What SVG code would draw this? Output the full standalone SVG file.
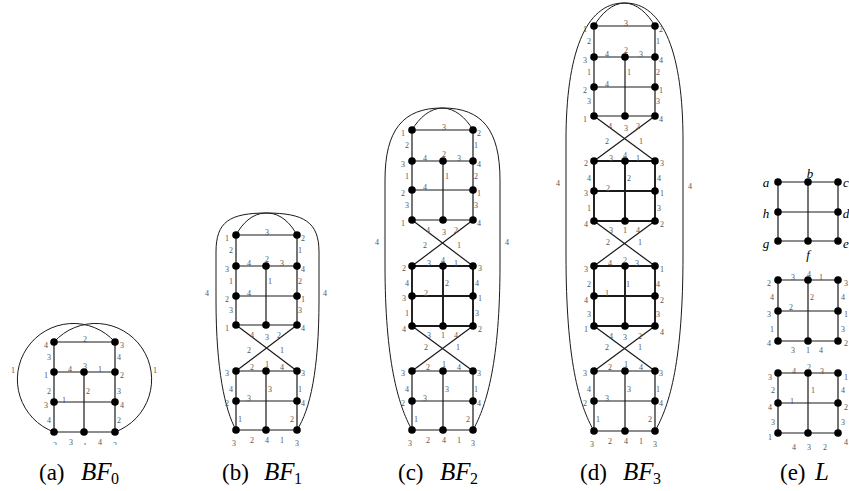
<svg xmlns="http://www.w3.org/2000/svg" width="849" height="491" viewBox="0 0 849 491">
<style>
.e{stroke:#1a1a1a;stroke-width:1.2;fill:none}
.t{stroke-width:1.9}
.o{stroke:#1a1a1a;stroke-width:1;fill:none}
circle{fill:#000}
.l text{font-family:"Liberation Serif",serif;font-size:8px;fill:#555;text-anchor:middle;dominant-baseline:central}
.v text{font-family:"Liberation Serif",serif;font-size:13px;font-style:italic;fill:#000;text-anchor:middle;dominant-baseline:central}
.cap text{font-family:"Liberation Serif",serif;font-size:23px;fill:#000}
.cap .i{font-style:italic;font-size:25px}
.cap .s{font-size:16px}
</style>
<defs>
<clipPath id="clipA"><rect x="0" y="0" width="170" height="445"/></clipPath>
</defs>
<g id="connectors">
<path class="e" d="M54,342H115M54,342V432M115,342V432M54,372H115M54,402H115M54,432H115M84,372V432"/>
<path class="o" d="M115,342A56,56 0 1 0 54,432M54,342A56,56 0 1 1 115,432"/>
<path class="e" d="M236,235H297M236,235V325M297,235V325M236,266H297M236,296H297M236,325H297M266,266V325"/>
<path class="e" d="M236,325L297,371M297,325L236,371"/>
<path class="e" d="M236,371H297M236,401H297M236,430H297M236,371V430M297,371V430M266,371V430"/>
<path class="o" d="M236,235C242,224 252,213 266,213C304,213 319,222 319,252L319,300C319,370 310,410 297,430"/>
<path class="o" d="M297,235C291,224 281,213 267,213C229,213 216,222 216,252L216,300C216,370 225,410 236,430"/>
<path class="e" d="M412,130H473M412,130V220M473,130V220M412,161H473M412,190H473M412,220H473M443,161V220"/>
<path class="e" d="M412,220L473,266M473,220L412,266"/>
<path class="e t" d="M412,266H473M412,296H473M412,326H473M412,266V326M473,266V326M443,266V326"/>
<path class="e" d="M412,326L473,371M473,326L412,371"/>
<path class="e" d="M412,371H473M412,401H473M412,430H473M412,371V430M473,371V430M443,371V430"/>
<path class="o" d="M412,130C419,118 430,108 443,108C482,108 500,130 500,180L500,265C500,360 487,405 473,430"/>
<path class="o" d="M473,130C466,118 455,108 442,108C403,108 385,130 385,180L385,265C385,360 398,405 412,430"/>
<path class="e" d="M594,26H655M594,26V116M655,26V116M594,57H655M594,87H655M594,116H655M625,57V116"/>
<path class="e" d="M594,116L655,161M655,116L594,161"/>
<path class="e t" d="M594,161H655M594,191H655M594,221H655M594,161V221M655,161V221M625,161V221"/>
<path class="e" d="M594,221L655,266M655,221L594,266"/>
<path class="e t" d="M594,266H655M594,296H655M594,326H655M594,266V326M655,266V326M625,266V326"/>
<path class="e" d="M594,326L655,371M655,326L594,371"/>
<path class="e" d="M594,371H655M594,401H655M594,431H655M594,371V431M655,371V431M625,371V431"/>
<path class="o" d="M594,26C601,14 612,3 625,3C664,3 683,55 683,140L683,255C683,360 670,405 655,431"/>
<path class="o" d="M655,26C648,14 637,3 624,3C585,3 566,55 566,140L566,255C566,360 579,405 594,431"/>
<path class="e" d="M778,182H838M778,212H838M778,241H838M778,182V241M838,182V241M808,182V241"/>
<path class="e" d="M778,280H838M778,311H838M778,341H838M778,280V341M838,280V341M808,280V341"/>
<path class="e" d="M778,373H838M778,403H838M778,433H838M778,373V433M838,373V433M808,373V433"/>
</g>
<g id="nodes-bf0">
<g id="a1"><circle cx="54" cy="342" r="3.8"/></g><g id="a2"><circle cx="115" cy="342" r="3.8"/></g>
<g id="a3"><circle cx="54" cy="372" r="3.8"/></g><g id="a4"><circle cx="84" cy="372" r="3.8"/></g><g id="a5"><circle cx="115" cy="372" r="3.8"/></g>
<g id="a6"><circle cx="54" cy="402" r="3.8"/></g><g id="a7"><circle cx="115" cy="402" r="3.8"/></g>
<g id="a8"><circle cx="54" cy="432" r="3.8"/></g><g id="a9"><circle cx="84" cy="432" r="3.8"/></g><g id="a10"><circle cx="115" cy="432" r="3.8"/></g>
</g>
<g id="nodes-bf1">
<g id="b1"><circle cx="236" cy="235" r="3.8"/></g><g id="b2"><circle cx="297" cy="235" r="3.8"/></g>
<g id="b3"><circle cx="236" cy="266" r="3.8"/></g><g id="b4"><circle cx="266" cy="266" r="3.8"/></g><g id="b5"><circle cx="297" cy="266" r="3.8"/></g>
<g id="b6"><circle cx="236" cy="296" r="3.8"/></g><g id="b7"><circle cx="297" cy="296" r="3.8"/></g>
<g id="b8"><circle cx="236" cy="325" r="3.8"/></g><g id="b9"><circle cx="266" cy="325" r="3.8"/></g><g id="b10"><circle cx="297" cy="325" r="3.8"/></g>
<g id="b11"><circle cx="236" cy="371" r="3.8"/></g><g id="b12"><circle cx="266" cy="371" r="3.8"/></g><g id="b13"><circle cx="297" cy="371" r="3.8"/></g>
<g id="b14"><circle cx="236" cy="401" r="3.8"/></g><g id="b15"><circle cx="297" cy="401" r="3.8"/></g>
<g id="b16"><circle cx="236" cy="430" r="3.8"/></g><g id="b17"><circle cx="266" cy="430" r="3.8"/></g><g id="b18"><circle cx="297" cy="430" r="3.8"/></g>
</g>
<g id="nodes-bf2">
<g id="c1"><circle cx="412" cy="130" r="3.8"/></g><g id="c2"><circle cx="473" cy="130" r="3.8"/></g>
<g id="c3"><circle cx="412" cy="161" r="3.8"/></g><g id="c4"><circle cx="443" cy="161" r="3.8"/></g><g id="c5"><circle cx="473" cy="161" r="3.8"/></g>
<g id="c6"><circle cx="412" cy="190" r="3.8"/></g><g id="c7"><circle cx="473" cy="190" r="3.8"/></g>
<g id="c8"><circle cx="412" cy="220" r="3.8"/></g><g id="c9"><circle cx="443" cy="220" r="3.8"/></g><g id="c10"><circle cx="473" cy="220" r="3.8"/></g>
<g id="c11"><circle cx="412" cy="266" r="3.8"/></g><g id="c12"><circle cx="443" cy="266" r="3.8"/></g><g id="c13"><circle cx="473" cy="266" r="3.8"/></g>
<g id="c14"><circle cx="412" cy="296" r="3.8"/></g><g id="c15"><circle cx="473" cy="296" r="3.8"/></g>
<g id="c16"><circle cx="412" cy="326" r="3.8"/></g><g id="c17"><circle cx="443" cy="326" r="3.8"/></g><g id="c18"><circle cx="473" cy="326" r="3.8"/></g>
<g id="c19"><circle cx="412" cy="371" r="3.8"/></g><g id="c20"><circle cx="443" cy="371" r="3.8"/></g><g id="c21"><circle cx="473" cy="371" r="3.8"/></g>
<g id="c22"><circle cx="412" cy="401" r="3.8"/></g><g id="c23"><circle cx="473" cy="401" r="3.8"/></g>
<g id="c24"><circle cx="412" cy="430" r="3.8"/></g><g id="c25"><circle cx="443" cy="430" r="3.8"/></g><g id="c26"><circle cx="473" cy="430" r="3.8"/></g>
</g>
<g id="nodes-bf3">
<g id="d1"><circle cx="594" cy="26" r="3.8"/></g><g id="d2"><circle cx="655" cy="26" r="3.8"/></g>
<g id="d3"><circle cx="594" cy="57" r="3.8"/></g><g id="d4"><circle cx="625" cy="57" r="3.8"/></g><g id="d5"><circle cx="655" cy="57" r="3.8"/></g>
<g id="d6"><circle cx="594" cy="87" r="3.8"/></g><g id="d7"><circle cx="655" cy="87" r="3.8"/></g>
<g id="d8"><circle cx="594" cy="116" r="3.8"/></g><g id="d9"><circle cx="625" cy="116" r="3.8"/></g><g id="d10"><circle cx="655" cy="116" r="3.8"/></g>
<g id="d11"><circle cx="594" cy="161" r="3.8"/></g><g id="d12"><circle cx="625" cy="161" r="3.8"/></g><g id="d13"><circle cx="655" cy="161" r="3.8"/></g>
<g id="d14"><circle cx="594" cy="191" r="3.8"/></g><g id="d15"><circle cx="655" cy="191" r="3.8"/></g>
<g id="d16"><circle cx="594" cy="221" r="3.8"/></g><g id="d17"><circle cx="625" cy="221" r="3.8"/></g><g id="d18"><circle cx="655" cy="221" r="3.8"/></g>
<g id="d19"><circle cx="594" cy="266" r="3.8"/></g><g id="d20"><circle cx="625" cy="266" r="3.8"/></g><g id="d21"><circle cx="655" cy="266" r="3.8"/></g>
<g id="d22"><circle cx="594" cy="296" r="3.8"/></g><g id="d23"><circle cx="655" cy="296" r="3.8"/></g>
<g id="d24"><circle cx="594" cy="326" r="3.8"/></g><g id="d25"><circle cx="625" cy="326" r="3.8"/></g><g id="d26"><circle cx="655" cy="326" r="3.8"/></g>
<g id="d27"><circle cx="594" cy="371" r="3.8"/></g><g id="d28"><circle cx="625" cy="371" r="3.8"/></g><g id="d29"><circle cx="655" cy="371" r="3.8"/></g>
<g id="d30"><circle cx="594" cy="401" r="3.8"/></g><g id="d31"><circle cx="655" cy="401" r="3.8"/></g>
<g id="d32"><circle cx="594" cy="431" r="3.8"/></g><g id="d33"><circle cx="625" cy="431" r="3.8"/></g><g id="d34"><circle cx="655" cy="431" r="3.8"/></g>
</g>
<g id="nodes-L">
<g id="La"><circle cx="778" cy="182" r="3.8"/></g><g id="Lb"><circle cx="808" cy="182" r="3.8"/></g><g id="Lc"><circle cx="838" cy="182" r="3.8"/></g>
<g id="Lh"><circle cx="778" cy="212" r="3.8"/></g><g id="Ld"><circle cx="838" cy="212" r="3.8"/></g>
<g id="Lg"><circle cx="778" cy="241" r="3.8"/></g><g id="Lf"><circle cx="808" cy="241" r="3.8"/></g><g id="Le"><circle cx="838" cy="241" r="3.8"/></g>
<g id="L2a"><circle cx="778" cy="280" r="3.8"/></g><g id="L2b"><circle cx="808" cy="280" r="3.8"/></g><g id="L2c"><circle cx="838" cy="280" r="3.8"/></g>
<g id="L2h"><circle cx="778" cy="311" r="3.8"/></g><g id="L2d"><circle cx="838" cy="311" r="3.8"/></g>
<g id="L2g"><circle cx="778" cy="341" r="3.8"/></g><g id="L2f"><circle cx="808" cy="341" r="3.8"/></g><g id="L2e"><circle cx="838" cy="341" r="3.8"/></g>
<g id="L3a"><circle cx="778" cy="373" r="3.8"/></g><g id="L3b"><circle cx="808" cy="373" r="3.8"/></g><g id="L3c"><circle cx="838" cy="373" r="3.8"/></g>
<g id="L3h"><circle cx="778" cy="403" r="3.8"/></g><g id="L3d"><circle cx="838" cy="403" r="3.8"/></g>
<g id="L3g"><circle cx="778" cy="433" r="3.8"/></g><g id="L3f"><circle cx="808" cy="433" r="3.8"/></g><g id="L3e"><circle cx="838" cy="433" r="3.8"/></g>
</g>
<g class="v" id="L-names">
<text x="766" y="182">a</text><text x="810" y="173">b</text><text x="846" y="182">c</text>
<text x="766" y="213">h</text><text x="846" y="213">d</text>
<text x="766" y="243">g</text><text x="808" y="254">f</text><text x="846" y="243">e</text>
</g>
<g class="l" id="labels-bf0">
<text x="46" y="345">4</text><text x="122" y="345">3</text><text x="85" y="339">2</text>
<text x="49" y="357">3</text><text x="119" y="357">4</text>
<text x="13" y="370">1</text><text x="155" y="370">1</text>
<text x="46" y="375">1</text><text x="70" y="369">4</text><text x="85" y="366">3</text><text x="100" y="369">1</text><text x="122" y="375">2</text>
<text x="49" y="391">2</text><text x="88" y="391">2</text><text x="119" y="391">3</text>
<text x="46" y="405">3</text><text x="64" y="400">1</text><text x="122" y="405">4</text>
<text x="49" y="420">4</text><text x="119" y="420">2</text>
<g clip-path="url(#clipA)"><text x="55" y="445">2</text><text x="71" y="442">3</text><text x="85" y="446">1</text><text x="100" y="442">4</text><text x="115" y="445">3</text></g>
</g>
<g class="l" id="labels-bf1">
<text x="227" y="238">1</text><text x="303" y="238">2</text><text x="267" y="232">3</text>
<text x="231" y="250">2</text><text x="300" y="250">1</text>
<text x="227" y="269">3</text><text x="249" y="263">4</text><text x="267" y="259">2</text><text x="282" y="263">3</text><text x="303" y="269">4</text>
<text x="231" y="281">1</text><text x="270" y="281">1</text><text x="300" y="281">2</text>
<text x="227" y="299">2</text><text x="249" y="293">4</text><text x="303" y="299">1</text>
<text x="231" y="310">3</text><text x="300" y="310">3</text>
<text x="227" y="328">1</text><text x="303" y="328">4</text>
<text x="252" y="335">4</text><text x="267" y="337">3</text><text x="279" y="335">2</text>
<text x="249" y="350">2</text><text x="282" y="350">1</text>
<text x="207" y="293">4</text><text x="325" y="293">4</text>
<text x="227" y="373">3</text><text x="252" y="367">2</text><text x="267" y="364">1</text><text x="282" y="367">4</text><text x="303" y="373">3</text>
<text x="231" y="389">4</text><text x="270" y="389">3</text><text x="300" y="389">1</text>
<text x="227" y="403">2</text><text x="249" y="398">3</text><text x="303" y="403">4</text>
<text x="240" y="419">1</text><text x="292" y="419">2</text>
<text x="234" y="443">3</text><text x="252" y="440">2</text><text x="267" y="440">4</text><text x="282" y="440">1</text><text x="297" y="443">3</text>
</g>
<g class="l" id="labels-bf2">
<text x="403" y="133">1</text><text x="479" y="133">2</text><text x="444" y="127">3</text>
<text x="407" y="145">2</text><text x="476" y="145">1</text>
<text x="403" y="164">3</text><text x="425" y="158">4</text><text x="444" y="154">2</text><text x="459" y="158">3</text><text x="479" y="164">4</text>
<text x="407" y="176">1</text><text x="447" y="176">1</text><text x="476" y="176">2</text>
<text x="403" y="193">2</text><text x="425" y="187">4</text><text x="479" y="193">1</text>
<text x="407" y="205">3</text><text x="476" y="205">3</text>
<text x="403" y="223">1</text><text x="479" y="223">4</text>
<text x="428" y="230">4</text><text x="444" y="232">3</text><text x="456" y="230">2</text>
<text x="425" y="245">2</text><text x="459" y="245">1</text>
<text x="377" y="242">4</text><text x="507" y="242">4</text>
<text x="404" y="268">2</text><text x="429" y="263">3</text><text x="443" y="260">4</text><text x="456" y="263">1</text><text x="480" y="268">3</text>
<text x="407" y="283">4</text><text x="447" y="283">2</text><text x="477" y="283">4</text>
<text x="404" y="298">3</text><text x="426" y="293">2</text><text x="480" y="298">1</text>
<text x="407" y="313">1</text><text x="477" y="313">3</text>
<text x="404" y="329">4</text><text x="480" y="329">2</text>
<text x="429" y="335">3</text><text x="443" y="335">1</text><text x="456" y="335">4</text>
<text x="426" y="347">2</text><text x="458" y="347">1</text>
<text x="403" y="373">3</text><text x="428" y="367">2</text><text x="444" y="364">1</text><text x="459" y="367">4</text><text x="479" y="373">3</text>
<text x="407" y="389">4</text><text x="447" y="389">3</text><text x="476" y="389">1</text>
<text x="403" y="403">2</text><text x="425" y="398">3</text><text x="479" y="403">4</text>
<text x="416" y="419">1</text><text x="468" y="419">2</text>
<text x="410" y="443">3</text><text x="428" y="440">2</text><text x="444" y="440">4</text><text x="459" y="440">1</text><text x="473" y="443">3</text>
</g>
<g class="l" id="labels-bf3">
<text x="585" y="29">1</text><text x="661" y="29">2</text><text x="626" y="23">3</text>
<text x="589" y="41">2</text><text x="658" y="41">1</text>
<text x="585" y="60">3</text><text x="607" y="54">4</text><text x="626" y="50">2</text><text x="641" y="54">3</text><text x="661" y="60">4</text>
<text x="589" y="72">1</text><text x="629" y="72">1</text><text x="658" y="72">2</text>
<text x="585" y="90">2</text><text x="607" y="84">4</text><text x="661" y="90">1</text>
<text x="589" y="101">3</text><text x="658" y="101">3</text>
<text x="585" y="119">1</text><text x="661" y="119">4</text>
<text x="610" y="126">4</text><text x="626" y="128">3</text><text x="638" y="126">2</text>
<text x="607" y="141">2</text><text x="641" y="141">1</text>
<text x="558" y="183">4</text><text x="690" y="186">4</text>
<text x="586" y="163">2</text><text x="611" y="158">3</text><text x="625" y="155">4</text><text x="638" y="158">1</text><text x="662" y="163">3</text>
<text x="589" y="178">4</text><text x="629" y="178">2</text><text x="659" y="178">4</text>
<text x="586" y="193">3</text><text x="608" y="188">2</text><text x="662" y="193">1</text>
<text x="589" y="208">1</text><text x="659" y="208">3</text>
<text x="586" y="224">4</text><text x="662" y="224">2</text>
<text x="611" y="230">3</text><text x="625" y="230">1</text><text x="638" y="230">4</text>
<text x="608" y="242">2</text><text x="640" y="242">1</text>
<text x="586" y="269">3</text><text x="610" y="263">4</text><text x="625" y="260">2</text><text x="637" y="263">3</text><text x="662" y="269">1</text>
<text x="589" y="284">2</text><text x="628" y="284">1</text><text x="658" y="284">4</text>
<text x="586" y="300">4</text><text x="607" y="293">1</text><text x="662" y="300">2</text>
<text x="589" y="314">3</text><text x="658" y="314">3</text>
<text x="586" y="329">1</text><text x="662" y="332">4</text>
<text x="611" y="336">4</text><text x="625" y="337">3</text><text x="640" y="336">2</text>
<text x="607" y="347">2</text><text x="640" y="347">1</text>
<text x="585" y="373">3</text><text x="610" y="367">2</text><text x="626" y="364">1</text><text x="641" y="367">4</text><text x="661" y="373">3</text>
<text x="589" y="389">4</text><text x="629" y="389">3</text><text x="658" y="389">1</text>
<text x="585" y="403">2</text><text x="607" y="398">3</text><text x="661" y="403">4</text>
<text x="598" y="419">1</text><text x="650" y="419">2</text>
<text x="592" y="444">3</text><text x="610" y="441">2</text><text x="626" y="441">4</text><text x="641" y="441">1</text><text x="655" y="444">3</text>
</g>
<g class="l" id="labels-L">
<text x="769" y="283">2</text><text x="793" y="277">3</text><text x="809" y="274">4</text><text x="821" y="277">1</text><text x="846" y="283">3</text>
<text x="772" y="297">4</text><text x="812" y="297">2</text><text x="843" y="297">4</text>
<text x="769" y="314">3</text><text x="791" y="307">2</text><text x="846" y="314">1</text>
<text x="772" y="329">1</text><text x="843" y="329">3</text>
<text x="769" y="343">4</text><text x="846" y="343">2</text>
<text x="793" y="350">3</text><text x="808" y="350">1</text><text x="821" y="350">4</text>
<text x="770" y="377">3</text><text x="794" y="371">4</text><text x="809" y="367">2</text><text x="822" y="371">3</text><text x="846" y="377">1</text>
<text x="773" y="390">2</text><text x="813" y="390">1</text><text x="843" y="390">4</text>
<text x="770" y="407">4</text><text x="792" y="401">1</text><text x="846" y="407">2</text>
<text x="773" y="422">3</text><text x="843" y="422">3</text>
<text x="770" y="437">1</text><text x="846" y="442">4</text>
<text x="794" y="447">4</text><text x="809" y="447">3</text><text x="825" y="447">2</text>
</g>
<g class="cap" id="captions">
<text x="39" y="480">(a)</text><text class="i" x="81" y="480">BF</text><text class="s" x="111" y="484">0</text>
<text x="222" y="480">(b)</text><text class="i" x="264" y="480">BF</text><text class="s" x="294" y="484">1</text>
<text x="398" y="480">(c)</text><text class="i" x="440" y="480">BF</text><text class="s" x="470" y="484">2</text>
<text x="580" y="480">(d)</text><text class="i" x="623" y="480">BF</text><text class="s" x="653" y="484">3</text>
<text x="780" y="480">(e)</text><text class="i" x="815" y="480">L</text>
</g>
</svg>
